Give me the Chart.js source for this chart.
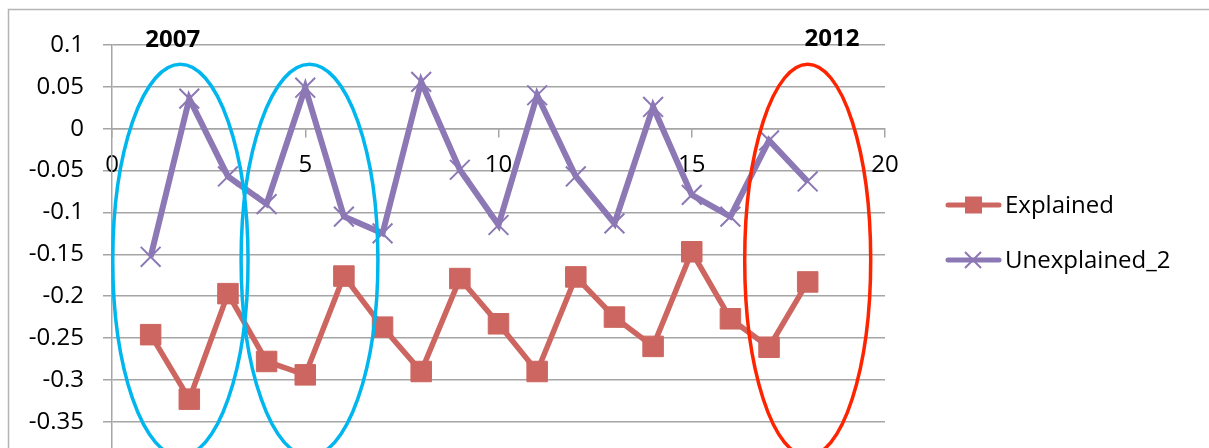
<!DOCTYPE html>
<html>
<head>
<meta charset="utf-8">
<script src="https://cdn.jsdelivr.net/npm/chart.js@4/dist/chart.umd.min.js"></script>
<style>
  html, body { margin: 0; padding: 0; background: #fff; overflow: hidden; width: 1209px; height: 448px; }
  #wrap { position: relative; width: 1209px; height: 497px; }
</style>
</head>
<body>
<div id="wrap"><canvas id="c" width="1209" height="497"></canvas></div>
<script>
// Period index (x) and the two decomposition components
const periods = [1, 2, 3, 4, 5, 6, 7, 8, 9, 10, 11, 12, 13, 14, 15, 16, 17, 18];
const explained = [-0.246, -0.323, -0.197, -0.278, -0.294, -0.176, -0.237, -0.290, -0.179,
                   -0.233, -0.290, -0.177, -0.225, -0.260, -0.147, -0.227, -0.261, -0.183];
const unexplained2 = [-0.153, 0.036, -0.057, -0.090, 0.049, -0.105, -0.125, 0.056, -0.049,
                      -0.115, 0.040, -0.057, -0.113, 0.026, -0.079, -0.105, -0.014, -0.063];
const seriesNames = ['Explained', 'Unexplained_2'];
const xTicks = [0, 5, 10, 15, 20];
const yTicks = [0.1, 0.05, 0, -0.05, -0.1, -0.15, -0.2, -0.25, -0.3, -0.35, -0.4];

// Year callouts and the ellipses that group the periods (data units)
const yearLabels = [
  { text: '2007', x: 1.57, y: 0.106 },
  { text: '2012', x: 18.63, y: 0.107 }
];
const groupRings = [
  { cx: 1.77, cy: -0.157, rx: 1.75, ry: 0.234, color: '#00B6EF' },
  { cx: 5.11, cy: -0.157, rx: 1.77, ry: 0.234, color: '#00B6EF' },
  { cx: 18.0, cy: -0.157, rx: 1.63, ry: 0.234, color: '#FF2400' }
];

const RED = '#CD6660';
const PURPLE = '#8C78B5';
const GRID = '#A5A5A5';
const FONT = '"Open Sans", "Noto Sans", sans-serif';

const toPoints = (ys) => ys.map((y, i) => ({ x: periods[i], y }));

const decorations = {
  id: 'decorations',
  beforeDraw(chart) {
    const ctx = chart.ctx;
    ctx.save();
    ctx.strokeStyle = '#B4B4B4';
    ctx.lineWidth = 1.5;
    ctx.beginPath();
    ctx.moveTo(8.5, chart.height);
    ctx.lineTo(8.5, 9.5);
    ctx.lineTo(chart.width, 9.5);
    ctx.stroke();
    ctx.restore();
  },
  afterDatasetsDraw(chart) {
    const ctx = chart.ctx;
    const xs = chart.scales.x, ys = chart.scales.y;
    ctx.save();
    groupRings.forEach(r => {
      const cx = xs.getPixelForValue(r.cx), cy = ys.getPixelForValue(r.cy);
      const rx = Math.abs(xs.getPixelForValue(r.cx + r.rx) - cx);
      const ry = Math.abs(ys.getPixelForValue(r.cy + r.ry) - cy);
      ctx.beginPath();
      ctx.ellipse(cx, cy, rx, ry, 0, 0, Math.PI * 2);
      ctx.strokeStyle = r.color;
      ctx.lineWidth = 3.5;
      ctx.stroke();
    });
    ctx.fillStyle = '#000';
    ctx.font = 'bold 24px ' + FONT;
    ctx.textAlign = 'center';
    ctx.textBaseline = 'middle';
    yearLabels.forEach(l => {
      ctx.fillText(l.text, xs.getPixelForValue(l.x), ys.getPixelForValue(l.y));
    });
    ctx.restore();
  },
  afterDraw(chart) {
    // legend: line sample with marker, then series name
    const ctx = chart.ctx;
    ctx.save();
    const rows = [205, 260];
    chart.data.datasets.forEach((ds, i) => {
      const y = rows[i];
      ctx.strokeStyle = ds.borderColor;
      ctx.lineWidth = 5;
      ctx.lineCap = 'round';
      ctx.beginPath();
      ctx.moveTo(948, y);
      ctx.lineTo(999, y);
      ctx.stroke();
      ctx.lineCap = 'butt';
      if (ds.pointStyle === 'rect') {
        ctx.fillStyle = ds.pointBackgroundColor;
        ctx.fillRect(965, y - 8.5, 17, 17);
      } else {
        ctx.lineWidth = 2;
        ctx.strokeStyle = ds.pointBorderColor;
        ctx.beginPath();
        ctx.moveTo(965, y - 8); ctx.lineTo(981, y + 8);
        ctx.moveTo(965, y + 8); ctx.lineTo(981, y - 8);
        ctx.stroke();
      }
      ctx.fillStyle = '#000';
      ctx.font = '24px ' + FONT;
      ctx.textAlign = 'left';
      ctx.textBaseline = 'middle';
      ctx.fillText(ds.label, 1005, y + 1);
    });
    ctx.restore();
  }
};

new Chart(document.getElementById('c'), {
  type: 'scatter',
  data: {
    datasets: [
      {
        label: seriesNames[0],
        data: toPoints(explained),
        showLine: true,
        borderColor: RED,
        borderWidth: 5.5,
        pointStyle: 'rect',
        pointRadius: 14.5,
        pointBackgroundColor: RED,
        pointBorderColor: RED,
        pointBorderWidth: 1,
        tension: 0
      },
      {
        label: seriesNames[1],
        data: toPoints(unexplained2),
        showLine: true,
        borderColor: PURPLE,
        borderWidth: 6,
        pointStyle: 'crossRot',
        pointRadius: 14,
        pointBackgroundColor: PURPLE,
        pointBorderColor: PURPLE,
        pointBorderWidth: 2,
        tension: 0
      }
    ]
  },
  options: {
    responsive: false,
    animation: false,
    devicePixelRatio: 1,
    layout: { padding: { left: 0, top: 45, right: 324, bottom: 9 } },
    plugins: { legend: { display: false }, tooltip: { enabled: false } },
    scales: {
      x: {
        type: 'linear',
        position: { y: 0 },
        min: 0, max: 20,
        afterBuildTicks(scale) { scale.ticks = xTicks.map(v => ({ value: v })); },
        ticks: {
          autoSkip: false, maxRotation: 0, padding: 14,
          color: '#000', font: { family: FONT, size: 24 },
          callback: (v) => String(v)
        },
        grid: { drawOnChartArea: false, drawTicks: true, tickLength: 8, color: GRID, lineWidth: 1.5 },
        border: { display: true, color: GRID, width: 1.5 }
      },
      y: {
        type: 'linear',
        min: -0.4, max: 0.1,
        afterBuildTicks(scale) { scale.ticks = yTicks.map(v => ({ value: v })); },
        afterFit(scale) { scale.width = 112; },
        ticks: {
          padding: 19,
          color: '#000', font: { family: FONT, size: 24 },
          callback: (v) => String(Number(v.toFixed(2)))
        },
        grid: { color: GRID, lineWidth: 1.5, drawTicks: true, tickLength: 9 },
        border: { display: true, color: GRID, width: 1.5 }
      }
    }
  },
  plugins: [decorations]
});
</script>
</body>
</html>
